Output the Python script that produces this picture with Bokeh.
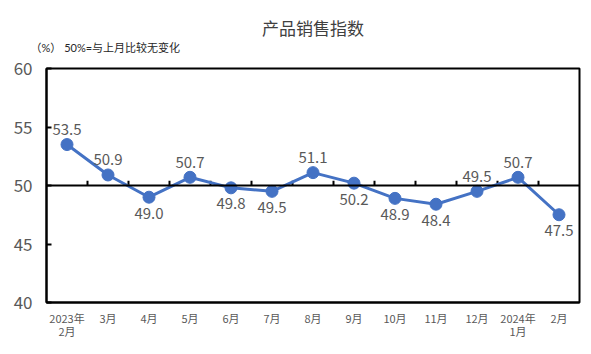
from bokeh.plotting import figure
from bokeh.models import ColumnDataSource, FixedTicker, Span, Title, LinearAxis
from bokeh.core.properties import value
from bokeh.embed import file_html
from bokeh.resources import INLINE

months_line1 = ["2023年", "3月", "4月", "5月", "6月", "7月", "8月", "9月", "10月", "11月", "12月", "2024年", "2月"]
months_line2 = ["2月", "", "", "", "", "", "", "", "", "", "", "1月", ""]
values = [53.5, 50.9, 49.0, 50.7, 49.8, 49.5, 51.1, 50.2, 48.9, 48.4, 49.5, 50.7, 47.5]
label_pos = ["above", "above", "below", "above", "below", "below", "above", "below", "below", "below", "above", "above", "below"]
y_ticks = [40, 45, 50, 55, 60]

FONT = "Noto Sans CJK SC"
TFONT = "Lato, 'Noto Sans CJK SC'"
BLUE = "#4472C4"
GRAY = "#595959"

xs = list(range(1, len(values) + 1))

p = figure(width=591, height=354, output_backend="svg", toolbar_location=None,
           x_range=(0.5, len(values) + 0.5), y_range=(40, 60),
           min_border_left=46, min_border_right=12, min_border_top=68, min_border_bottom=52)
p.grid.visible = False
p.outline_line_color = "black"
p.outline_line_width = 2
p.background_fill_color = "white"
p.border_fill_color = "white"

# title, spacer and subtitle (first added sits next to the frame)
p.title = Title(text="产品销售指数", align="center", offset=-17, standoff=0,
                text_font=TFONT, text_font_size="17px", text_color="#404040",
                text_font_style="normal")
p.add_layout(Title(text=" ", text_font_size="1px", standoff=12), "above")
p.add_layout(Title(text="（%） 50%=与上月比较无变化", align="left", offset=-16, standoff=0,
                   text_font=TFONT, text_font_size="11px", text_color="#262626",
                   text_font_style="normal"), "above")

# y axis
p.yaxis.ticker = FixedTicker(ticks=y_ticks)
p.yaxis.axis_line_color = "black"
p.yaxis.axis_line_width = 2
p.yaxis.major_tick_in = 5
p.yaxis.major_tick_out = 0
p.yaxis.major_tick_line_width = 2
p.yaxis.minor_tick_line_color = None
p.yaxis.major_label_text_font = FONT
p.yaxis.major_label_text_font_size = "17px"
p.yaxis.major_label_text_color = GRAY
p.yaxis.major_label_standoff = 14

# x axis (first line of labels)
p.xaxis.ticker = FixedTicker(ticks=xs)
p.xaxis.major_label_overrides = {x: m for x, m in zip(xs, months_line1)}
p.xaxis.axis_line_color = "black"
p.xaxis.axis_line_width = 2
p.xaxis.major_tick_line_color = None
p.xaxis.minor_tick_line_color = None
p.xaxis.major_label_text_font = FONT
p.xaxis.major_label_text_font_size = "11px"
p.xaxis.major_label_text_color = GRAY
p.xaxis.major_label_standoff = 1

# second line of x labels
ax2 = LinearAxis(ticker=FixedTicker(ticks=xs),
                 major_label_overrides={x: (m if m else " ") for x, m in zip(xs, months_line2)},
                 axis_line_color=None, major_tick_line_color=None, minor_tick_line_color=None,
                 major_label_text_font=FONT, major_label_text_font_size="11px",
                 major_label_text_color=GRAY, major_label_standoff=-12)
p.add_layout(ax2, "below")

# 50 reference line
p.add_layout(Span(location=50, dimension="width", line_color="black", line_width=2))
# boundary ticks on 50 line
bx = [i + 0.5 for i in xs[:-1]]
p.segment(x0=bx, y0=[50] * len(bx), x1=bx, y1=[50.4] * len(bx), line_color="black", line_width=2)

src = ColumnDataSource(dict(x=xs, y=values))
p.line("x", "y", source=src, line_color=BLUE, line_width=3)
p.scatter("x", "y", source=src, size=12, fill_color=BLUE, line_color=BLUE)

ab = [i for i, pos in enumerate(label_pos) if pos == "above"]
be = [i for i, pos in enumerate(label_pos) if pos == "below"]
src_a = ColumnDataSource(dict(x=[xs[i] for i in ab], y=[values[i] for i in ab], t=[f"{values[i]:.1f}" for i in ab]))
src_b = ColumnDataSource(dict(x=[xs[i] for i in be], y=[values[i] for i in be], t=[f"{values[i]:.1f}" for i in be]))
p.text("x", "y", text="t", source=src_a, y_offset=-15, text_align="center", text_baseline="middle",
       text_font=value(FONT), text_font_size="15px", text_color=GRAY)
p.text("x", "y", text="t", source=src_b, y_offset=16, text_align="center", text_baseline="middle",
       text_font=value(FONT), text_font_size="15px", text_color=GRAY)

open("out.html", "w").write(file_html(p, INLINE))
